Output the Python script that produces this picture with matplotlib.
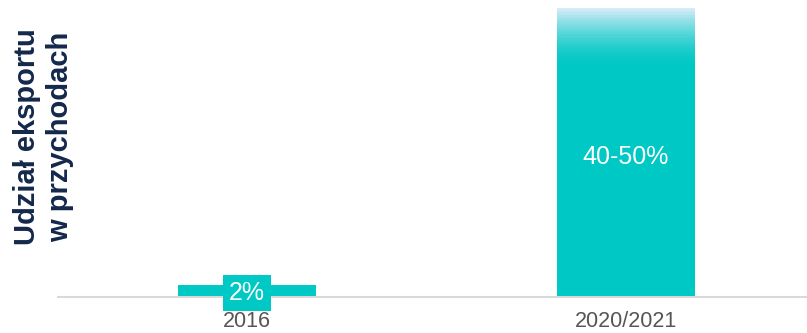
import matplotlib.pyplot as plt
import numpy as np
from matplotlib.colors import to_rgb

plt.rcParams['font.family'] = ['Liberation Sans', 'DejaVu Sans']

years = ['2016', '2020/2021']
share_low = [2, 40]
share_high = [2, 50]
labels = ['2%', '40-50%']

teal = '#00c8c4'
fade_top = '#dcecf8'

fig = plt.figure(figsize=(8.07, 3.33), dpi=100)
ax = fig.add_axes([58 / 807, 36 / 333, 749 / 807, 292 / 333])

x = np.arange(len(years))
width = 0.364
ax.bar(x, share_low, width=width, color=teal, zorder=2)

# range part of the bar fades out towards the upper bound
steps = 40
c0, c1 = np.array(to_rgb(teal)), np.array(to_rgb(fade_top))
for i, (lo, hi) in enumerate(zip(share_low, share_high)):
    if hi <= lo:
        continue
    edges = np.linspace(lo, hi, steps + 1)
    for k in range(steps):
        t = (k + 0.5) / steps
        col = c0 + (c1 - c0) * t ** 1.6
        ax.bar(x[i], edges[k + 1] - edges[k], bottom=edges[k], width=width,
               color=col, linewidth=0, zorder=2)

# value labels
ax.text(x[0], share_low[0] / 2 - 0.3, labels[0], ha='center', va='center',
        color='white', fontsize=18, zorder=4,
        bbox=dict(boxstyle='square,pad=0.24', fc=teal, ec='none'))
ax.text(x[1], 24.2, labels[1], ha='center', va='center', color='white',
        fontsize=18, zorder=4)

ax.set_xlim(-0.4987, 1.4776)
ax.set_ylim(0, 50.5)
ax.set_xticks(x)
ax.set_xticklabels(years, fontsize=15.5, color='#555555')
ax.tick_params(axis='x', length=0, pad=10)
ax.set_yticks([])
for side in ['top', 'right', 'left']:
    ax.spines[side].set_visible(False)
ax.spines['bottom'].set_color('#d9d9d9')
ax.spines['bottom'].set_linewidth(1.5)

fig.text(0.054, 0.59, 'Udział eksportu\nw przychodach', rotation=90,
         ha='center', va='center', fontsize=21, fontweight='bold',
         color='#14284b', linespacing=1.2)

fig.savefig('out.png', dpi=100)
